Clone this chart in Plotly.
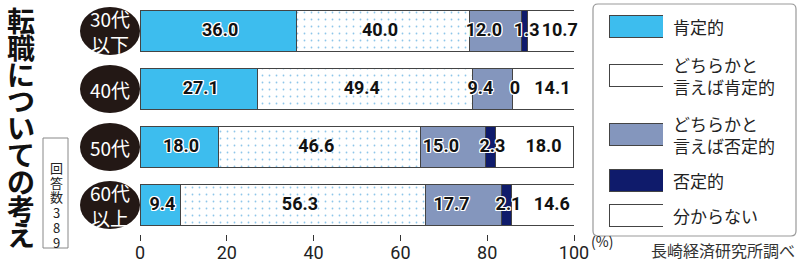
import plotly.graph_objects as go

# ---------------- data ----------------
categories = ["30代以下", "40代", "50代", "60代以上"]
cat_labels = ["30代<br>以下", "40代", "50代", "60代<br>以上"]
series_names = ["肯定的", "どちらかと言えば肯定的", "どちらかと言えば否定的", "否定的", "分からない"]
legend_labels = ["肯定的", "どちらかと<br>言えば肯定的", "どちらかと<br>言えば否定的", "否定的", "分からない"]
affirm = [36.0, 27.1, 18.0, 9.4]
somewhat_affirm = [40.0, 49.4, 46.6, 56.3]
somewhat_neg = [12.0, 9.4, 15.0, 17.7]
negative = [1.3, 0.0, 2.3, 2.1]
unknown = [10.7, 14.1, 18.0, 14.6]
x_ticks = [0, 20, 40, 60, 80, 100]
title_text = "転職についての考え"
n_text = "回答数389"
source_text = "長崎経済研究所調べ"

series = [affirm, somewhat_affirm, somewhat_neg, negative, unknown]

# ---------------- styles ----------------
W, H = 800, 263
ML, MR, MT, MB = 140, 4, 2, 29
PW = W - ML - MR
PH = H - MT - MB
PLOT_RIGHT = 574
PX_PER_UNIT = (PLOT_RIGHT - ML) / 100.0

colors = ["#3dbdee", "#ffffff", "#8496bd", "#0f1b6b", "#ffffff"]
patterns = ["", ".", "", "", ""]
halo_on = [True, False, True, True, False]
label_shift_px = [2, -3, -12, 2, 9]
EDGE = "#444444"
DOT = "#8ec6ea"
JP = "Noto Sans CJK JP"
NUM = "Roboto"
HALO = ("1px 1px 0 #fff, -1px -1px 0 #fff, 1px -1px 0 #fff, -1px 1px 0 #fff, "
        "0 1px 0 #fff, 1px 0 0 #fff, 0 -1px 0 #fff, -1px 0 0 #fff")
PATTERN = dict(fgcolor=DOT, bgcolor="#ffffff", size=7, solidity=0.05, fillmode="replace")


def px_x(px):
    return (px - ML) / PW


def px_y(py):
    return (MT + PH - py) / PH


fig = go.Figure()

# stacked bars
for name, vals, col, pat in zip(series_names, series, colors, patterns):
    marker = dict(color=col, line=dict(color=EDGE, width=1))
    if pat:
        marker["pattern"] = dict(shape=pat, **PATTERN)
    fig.add_trace(go.Bar(
        orientation="h", x=vals, y=categories, name=name, marker=marker,
        width=0.72, cliponaxis=False, showlegend=False, hoverinfo="skip",
        xaxis="x", yaxis="y"))

# value labels near segment midpoints
starts = [0.0] * len(categories)
for vals, halo, shift in zip(series, halo_on, label_shift_px):
    mids = [s + v / 2 + shift / PX_PER_UNIT for s, v in zip(starts, vals)]
    texts = ["0" if v == 0 else f"{v:.1f}" for v in vals]
    font = dict(family=NUM, size=18, color="#111111", weight=700)
    if halo:
        font["shadow"] = HALO
    fig.add_trace(go.Scatter(
        x=mids, y=categories, mode="text", text=texts, textfont=font,
        textposition="middle center", cliponaxis=False, showlegend=False,
        hoverinfo="skip", xaxis="x", yaxis="y"))
    starts = [s + v for s, v in zip(starts, vals)]

# legend swatches (separate invisible subplot, y in pixel units)
sw_centers = [26, 75, 134, 180, 215]
fig.add_trace(go.Bar(
    orientation="h", x=[1] * 5, y=sw_centers, base=0, width=22,
    marker=dict(color=colors, line=dict(color=EDGE, width=1),
                pattern=dict(shape=patterns, **PATTERN)),
    showlegend=False, hoverinfo="skip", xaxis="x2", yaxis="y2", cliponaxis=False))

annotations = []
for lab, yc in zip(legend_labels, sw_centers):
    annotations.append(dict(
        x=1, y=yc, xref="x2", yref="y2", text=lab, showarrow=False,
        xanchor="left", yanchor="middle", xshift=8, align="left",
        font=dict(family=JP, size=17, color="#222222")))

# category ellipse labels
shapes = []
for cat, lab in zip(categories, cat_labels):
    shapes.append(dict(
        type="circle", xref="paper", yref="y", xsizemode="pixel", ysizemode="pixel",
        xanchor=0, yanchor=cat, x0=-60, x1=0, y0=-24, y1=24,
        fillcolor="#231815", line=dict(width=0), layer="above"))
    annotations.append(dict(
        x=0, y=cat, xref="paper", yref="y", xshift=-30, text=lab, showarrow=False,
        xanchor="center", yanchor="middle",
        font=dict(family=JP, size=19, color="#ffffff")))

# vertical title, one glyph at a time
for i, ch in enumerate(title_text):
    annotations.append(dict(
        x=px_x(21), y=px_y(20 + 26.8 * i), xref="paper", yref="paper", text=ch,
        showarrow=False, xanchor="center", yanchor="middle",
        font=dict(family=JP, size=28, color="#111111", weight="bold")))

# response count box
shapes.append(dict(type="rect", xref="paper", yref="paper",
                   x0=px_x(43), x1=px_x(68), y0=px_y(138), y1=px_y(248),
                   line=dict(color="#888888", width=1), fillcolor="rgba(0,0,0,0)"))
for i, ch in enumerate(n_text):
    annotations.append(dict(
        x=px_x(56), y=px_y(167 + 15 * i), xref="paper", yref="paper", text=ch,
        showarrow=False, xanchor="center", yanchor="middle",
        font=dict(family=JP, size=13, color="#222222")))

# legend frame (rounded)
x0, x1, y0, y1 = px_x(593), px_x(796), px_y(236), px_y(4)
rx, ry = 5 / PW, 5 / PH
path = (f"M{x0+rx},{y0} L{x1-rx},{y0} Q{x1},{y0} {x1},{y0+ry} L{x1},{y1-ry} "
        f"Q{x1},{y1} {x1-rx},{y1} L{x0+rx},{y1} Q{x0},{y1} {x0},{y1-ry} "
        f"L{x0},{y0+ry} Q{x0},{y0} {x0+rx},{y0} Z")
shapes.append(dict(type="path", xref="paper", yref="paper", path=path,
                   line=dict(color="#999999", width=1.2), fillcolor="rgba(0,0,0,0)"))

# unit and source
annotations.append(dict(x=px_x(589), y=px_y(241), xref="paper", yref="paper",
                        text="(%)", showarrow=False, xanchor="left", yanchor="middle",
                        font=dict(family=JP, size=14, color="#222222")))
annotations.append(dict(x=px_x(797), y=px_y(250), xref="paper", yref="paper",
                        text=source_text, showarrow=False, xanchor="right",
                        yanchor="middle", font=dict(family=JP, size=16, color="#333333")))

fig.update_layout(
    template="none",
    width=W, height=H, autosize=False, barmode="stack",
    margin=dict(l=ML, r=MR, t=MT, b=MB, pad=0, autoexpand=False),
    paper_bgcolor="#ffffff", plot_bgcolor="#ffffff",
    showlegend=False,
    xaxis=dict(domain=[0, px_x(PLOT_RIGHT)], range=[0, 100], tickvals=x_ticks,
               ticks="outside", ticklen=6, tickwidth=1, tickcolor="#333333",
               ticklabelstandoff=-4,
               showgrid=False, zeroline=False, showline=False, automargin=False,
               tickfont=dict(family=NUM, size=18, color="#222222"), anchor="y"),
    yaxis=dict(type="category", categoryorder="array", categoryarray=categories,
               range=[3.5, -0.5], showticklabels=False, showgrid=False, automargin=False,
               zeroline=False, showline=False, ticks="", anchor="x"),
    xaxis2=dict(domain=[px_x(609), px_x(663)], range=[0, 1], visible=False,
                anchor="y2", fixedrange=True, automargin=False),
    yaxis2=dict(domain=[0, 1], range=[MT + PH, MT], visible=False, anchor="x2",
                fixedrange=True, automargin=False),
    annotations=annotations, shapes=shapes,
)

fig.write_html("out.html", config={"responsive": False})
